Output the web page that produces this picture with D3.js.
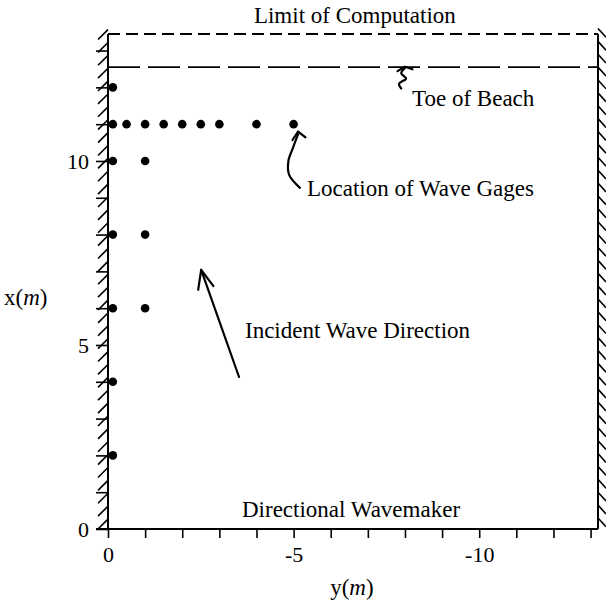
<!DOCTYPE html>
<html>
<head>
<meta charset="utf-8">
<script src="https://cdn.jsdelivr.net/npm/d3@7"></script>
<style>
  body { margin: 0; background: #fff; }
  text { font-family: "Liberation Serif", "DejaVu Serif", serif; fill: #000; }
</style>
</head>
<body>
<div class="chart-area"></div>
<script>
// wave gage positions (y(m), x(m))
const gageY = [-0.13, -0.13, -0.5, -1, -1.5, -2, -2.5, -3, -4, -5, -0.13, -1, -0.13, -1, -0.13, -1, -0.13, -0.13];
const gageX = [12, 11, 11, 11, 11, 11, 11, 11, 11, 11, 10, 10, 8, 8, 6, 6, 4, 2];

const xTicks = [0, -1, -2, -3, -4, -5, -6, -7, -8, -9, -10, -11, -12, -13];
const xTickLabels = ["0", "-5", "-10"];
const yTicks = [0, 1, 2, 3, 4, 5, 6, 7, 8, 9, 10, 11, 12, 13];
const yTickLabels = ["0", "5", "10"];

const limitOfComputation = 13.45;
const toeOfBeach = 12.55;
const domainY = [0, -13.2];

// annotation arrows, in data units [y, x]
const incidentArrow = [[-3.53, 4.13], [-2.51, 7.04]];
const incidentHead = [[-2.43, 6.5], [-2.51, 7.04], [-2.84, 6.6]];
const gageArrow = [[-5.17, 9.27], [-4.88, 9.62], [-4.86, 10.0], [-4.98, 10.35], [-5.12, 10.72]];
const gageHead = [[-4.97, 10.57], [-5.12, 10.8], [-5.32, 10.64]];
const toeArrow = [[-7.9, 11.97], [-7.84, 12.1], [-8.03, 12.24], [-7.9, 12.38], [-8.0, 12.53]];
const toeHead = [[-7.8, 12.44], [-8.0, 12.56], [-8.2, 12.49]];

const labels = [
  { text: "Limit of Computation", y: -6.65, x: 13.75, anchor: "middle" },
  { text: "Toe of Beach", y: -8.19, x: 11.5, anchor: "start" },
  { text: "Location of Wave Gages", y: -5.36, x: 9.05, anchor: "start" },
  { text: "Incident Wave Direction", y: -3.69, x: 5.19, anchor: "start" },
  { text: "Directional Wavemaker", y: -3.61, x: 0.33, anchor: "start" }
];

const width = 606, height = 604;
const svg = d3.select(".chart-area").append("svg")
  .attr("width", width).attr("height", height);

const xs = d3.scaleLinear().domain(domainY).range([108, 598]);
const ys = d3.scaleLinear().domain([0, limitOfComputation]).range([529, 34]);

const fs = 23;

// bottom axis
const xAxis = d3.axisBottom(xs).tickValues(xTicks).tickSize(9)
  .tickFormat(d => xTickLabels.includes(String(d)) ? String(d) : "");
const gx = svg.append("g").attr("transform", `translate(0,${ys(0)})`).call(xAxis);
gx.select(".domain").remove();
gx.selectAll("line").attr("stroke", "#000").attr("stroke-width", 1.6);
gx.selectAll("text").attr("font-size", 22).attr("font-family", "Liberation Serif").attr("dy", "0.95em");

// left axis
const yAxis = d3.axisLeft(ys).tickValues(yTicks).tickSize(12)
  .tickFormat(d => yTickLabels.includes(String(d)) ? String(d) : "");
const gy = svg.append("g").attr("transform", `translate(${xs(0)},0)`).call(yAxis);
gy.select(".domain").remove();
gy.selectAll("line").attr("stroke", "#000").attr("stroke-width", 1.6);
gy.selectAll("text").attr("font-size", 22).attr("font-family", "Liberation Serif").attr("x", -19).attr("dy", "0.33em");

// walls
svg.append("line").attr("x1", xs(0)).attr("x2", xs(0)).attr("y1", ys(0)).attr("y2", ys(limitOfComputation))
  .attr("stroke", "#000").attr("stroke-width", 2);
svg.append("line").attr("x1", xs(0) - 12).attr("x2", xs(domainY[1])).attr("y1", ys(0)).attr("y2", ys(0))
  .attr("stroke", "#000").attr("stroke-width", 2);
svg.append("line").attr("x1", xs(domainY[1])).attr("x2", xs(domainY[1])).attr("y1", ys(0)).attr("y2", ys(limitOfComputation))
  .attr("stroke", "#000").attr("stroke-width", 2);

// hatching on side walls
const hatch = d3.range(0, limitOfComputation, 0.35);
svg.append("g").selectAll("line").data(hatch).join("line")
  .attr("x1", xs(0)).attr("y1", d => ys(d + 0.27))
  .attr("x2", xs(0) - 10).attr("y2", d => ys(d))
  .attr("stroke", "#000").attr("stroke-width", 1.6);
svg.append("g").selectAll("line").data(hatch).join("line")
  .attr("x1", xs(domainY[1])).attr("y1", d => ys(d + 0.3))
  .attr("x2", xs(domainY[1]) + 8).attr("y2", d => ys(d + 0.06))
  .attr("stroke", "#000").attr("stroke-width", 1.6);

// limit of computation + toe of beach
svg.append("line").attr("x1", xs(0)).attr("x2", xs(domainY[1]))
  .attr("y1", ys(limitOfComputation)).attr("y2", ys(limitOfComputation))
  .attr("stroke", "#000").attr("stroke-width", 2).attr("stroke-dasharray", "12,6");
svg.append("line").attr("x1", xs(0)).attr("x2", xs(domainY[1]))
  .attr("y1", ys(toeOfBeach)).attr("y2", ys(toeOfBeach))
  .attr("stroke", "#000").attr("stroke-width", 1.8).attr("stroke-dasharray", "32,8");

// gages
svg.append("g").selectAll("circle").data(gageY).join("circle")
  .attr("cx", d => xs(d)).attr("cy", (d, i) => ys(gageX[i])).attr("r", 4.3).attr("fill", "#000");

// arrows
const line = d3.line().x(d => xs(d[0])).y(d => ys(d[1]));
const curve = d3.line().curve(d3.curveCatmullRom).x(d => xs(d[0])).y(d => ys(d[1]));
[[incidentArrow, line], [gageArrow, curve], [toeArrow, curve], [incidentHead, line], [gageHead, line], [toeHead, line]]
  .forEach(([pts, gen]) => {
    svg.append("path").attr("d", gen(pts)).attr("fill", "none")
      .attr("stroke", "#000").attr("stroke-width", 2.2).attr("stroke-linejoin", "round").attr("stroke-linecap", "round");
  });

// annotations
svg.append("g").selectAll("text").data(labels).join("text")
  .attr("x", d => xs(d.y)).attr("y", d => ys(d.x))
  .attr("text-anchor", d => d.anchor).attr("font-size", fs).text(d => d.text);

// axis titles
const xt = svg.append("text").attr("x", 4).attr("y", 305).attr("font-size", fs);
xt.append("tspan").text("x(");
xt.append("tspan").attr("font-style", "italic").text("m");
xt.append("tspan").text(")");
const yt = svg.append("text").attr("x", xs(-6.57)).attr("y", 595).attr("font-size", fs).attr("text-anchor", "middle");
yt.append("tspan").text("y(");
yt.append("tspan").attr("font-style", "italic").text("m");
yt.append("tspan").text(")");
</script>
</body>
</html>
